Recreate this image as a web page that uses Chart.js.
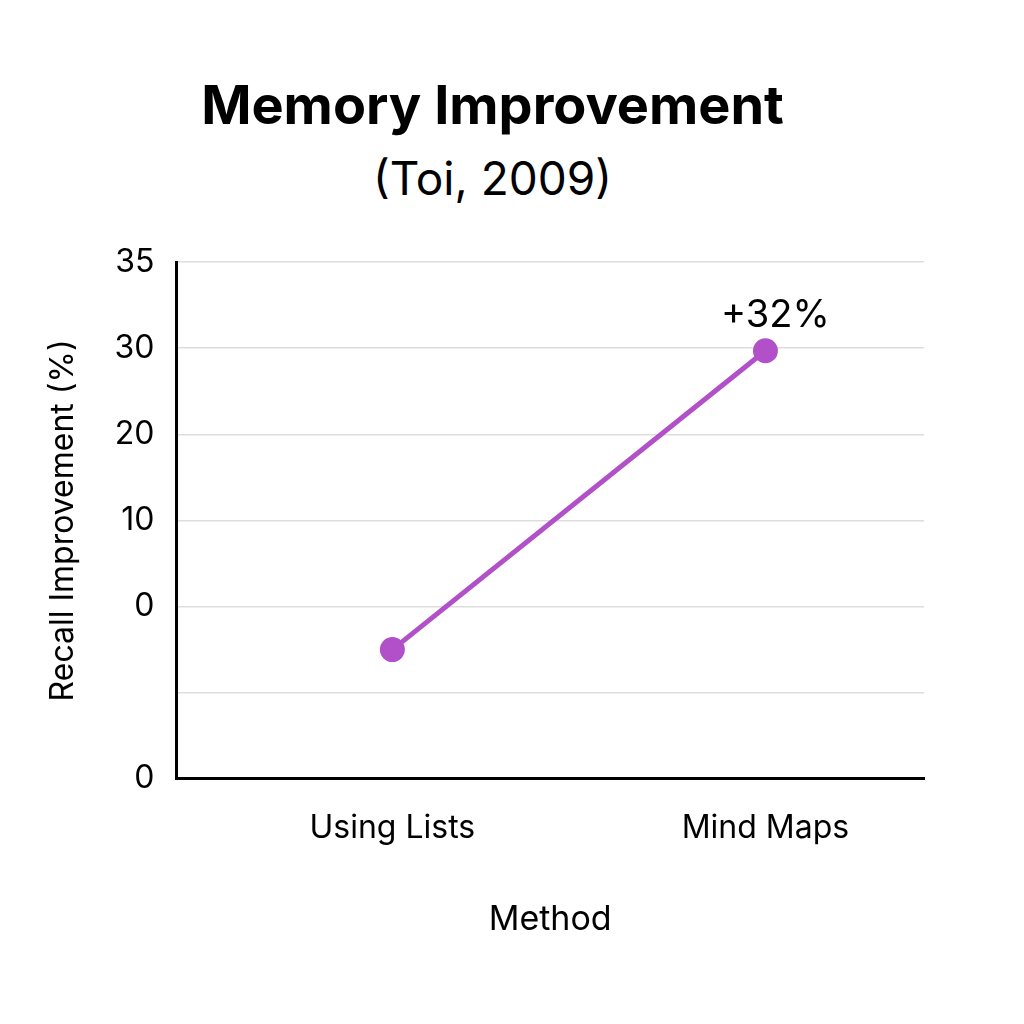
<!DOCTYPE html>
<html>
<head>
<meta charset="utf-8">
<script src="https://cdn.jsdelivr.net/npm/chart.js@4"></script>
<style>
  body { margin: 0; background: #fff; }
  #wrap { position: relative; width: 1024px; height: 1024px; }
  h1, h2 { position: absolute; left: 0; width: 985px; text-align: center; margin: 0; font-family: Inter, sans-serif; color: #000; }
  h1 { top: 72px; font-size: 54px; font-weight: 700; }
  h2 { top: 150px; font-size: 46px; font-weight: 400; }
</style>
</head>
<body>
<div id="wrap">
  <h1>Memory Improvement</h1>
  <h2>(Toi, 2009)</h2>
  <canvas id="chart" width="1024" height="1024" style="position:absolute;left:0;top:0"></canvas>
</div>
<script>
// Data
const methods = ['Using Lists', 'Mind Maps'];
const recall = [-5, 29.7];
const yTickLabels = ['0', '', '0', '10', '20', '30', '35']; // bottom to top, as printed
const callout = '+32%';

// values sit on the printed grid: 0 at the third line, 10 per step
const toGrid = v => 2 + v / 10;

const labelPlugin = {
  id: 'callout',
  afterDatasetsDraw(chart) {
    const pt = chart.getDatasetMeta(0).data[1];
    const c = chart.ctx;
    c.save();
    c.font = '38px Inter, sans-serif';
    c.fillStyle = '#000';
    c.textAlign = 'center';
    c.fillText(callout, pt.x + 10, pt.y - 24);
    c.restore();
  }
};

new Chart(document.getElementById('chart'), {
  type: 'line',
  data: {
    datasets: [{
      data: recall.map((v, i) => ({ x: i, y: toGrid(v) })),
      borderColor: '#b150c8',
      backgroundColor: '#b150c8',
      borderWidth: 5,
      pointRadius: 10,
      pointHoverRadius: 10
    }]
  },
  options: {
    responsive: false,
    animation: false,
    layout: { padding: { left: 40, right: 100, top: 262, bottom: 80 } },
    plugins: { legend: { display: false }, tooltip: { enabled: false } },
    scales: {
      x: {
        type: 'linear', min: -0.579, max: 1.425,
        afterBuildTicks: a => { a.ticks = [{ value: 0 }, { value: 1 }]; },
        ticks: { callback: v => methods[v], color: '#000', font: { family: 'Inter', size: 32 }, padding: 22 },
        grid: { display: false },
        border: { color: '#000', width: 3 },
        title: { display: true, text: 'Method', color: '#000', font: { family: 'Inter', size: 34 }, padding: { top: 30 } }
      },
      y: {
        min: 0, max: 6,
        afterBuildTicks: a => { a.ticks = yTickLabels.map((_, i) => ({ value: i })); },
        ticks: { callback: v => yTickLabels[v], color: '#000', font: { family: 'Inter', size: 32 }, padding: 22 },
        grid: { color: '#dddddd', lineWidth: 1.5, drawTicks: false },
        border: { color: '#000', width: 3 },
        title: { display: true, text: 'Recall Improvement (%)', color: '#000', font: { family: 'Inter', size: 32 }, padding: { bottom: 10 } }
      }
    }
  },
  plugins: [labelPlugin]
});
</script>
</body>
</html>
